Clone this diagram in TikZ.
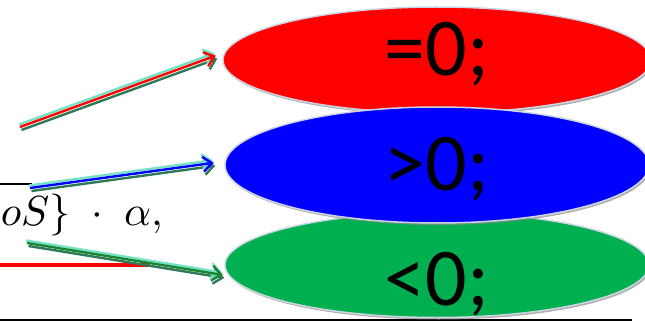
\documentclass[tikz,border=0pt]{standalone}
\usepackage{fontspec}
\newfontfamily\valfont{Carlito}
\usetikzlibrary{arrows.meta,shapes.geometric,shadows}
\definecolor{SignRed}{HTML}{FF0000}
\definecolor{SignBlue}{HTML}{0000FF}
\definecolor{SignGreen}{HTML}{00B050}
\definecolor{ArrowGreen}{HTML}{18862E}
\definecolor{GlowAqua}{HTML}{74E2C6}
\definecolor{ShadeTeal}{HTML}{2E7A58}
\definecolor{RimGrey}{HTML}{CDD5E4}

\begin{document}
\begin{tikzpicture}[x=1pt,y=-1pt,
  ovalbox/.style={ellipse,draw=RimGrey,line width=1.5pt,inner sep=0pt,
    drop shadow={shadow xshift=1.5pt,shadow yshift=-2pt,fill=black!45,opacity=0.7}},
  valtext/.style={anchor=base,inner sep=0pt,font=\valfont\fontsize{82}{84}\selectfont},
  glowarrow/.style={line width=2.4pt,-{Straight Barb[length=9pt,width=15pt]}}]
  \useasboundingbox (0,0) rectangle (645,321);
  % pieces of the slide underneath
  \draw[line width=1.3pt] (0,184) -- (32,184);
  \draw[SignRed,line width=4pt] (0,265) -- (150,265);
  \draw[line width=1.2pt] (0,320) -- (632,320);
  \node[anchor=base west,inner sep=0pt,scale=4.2] (formula) at (0,225)
    {$oS\}\;\cdot\;\alpha,$};
  % the three cases
  \node[ovalbox,fill=SignRed,minimum width=428pt,minimum height=106pt] (eqz) at (437,60) {};
  \node[ovalbox,fill=SignGreen,minimum width=424pt,minimum height=105pt] (ltz) at (437,265) {};
  \node[ovalbox,fill=SignBlue,minimum width=424pt,minimum height=116pt] (gtz) at (437,165) {};
  \node[valtext] (eqtext) at ([yshift=-15pt]eqz.center) {=0;};
  \node[valtext] (gttext) at ([yshift=-25pt]gtz.center) {>0;};
  \node[valtext] (lttext) at ([yshift=-40pt]ltz.center) {<0;};
  % arrows: shade, glow, then the arrow itself
  \coordinate (eqstart) at (20,127);
  \coordinate (gtstart) at (30,188);
  \coordinate (ltstart) at (27,243);
  \foreach \from/\to/\col/\sh in {eqstart/eqz.178/SignRed/9pt,
      gtstart/gtz.179/SignBlue/11pt, ltstart/ltz.183/ArrowGreen/6pt}{
    \draw[glowarrow,ShadeTeal,shorten >=\sh] ([shift={(1.5pt,-3pt)}]\from) -- ([shift={(1.5pt,-3pt)}]\to);
    \draw[glowarrow,GlowAqua,shorten >=\sh] ([shift={(-1pt,2.5pt)}]\from) -- ([shift={(-1pt,2.5pt)}]\to);
    \draw[glowarrow,\col,shorten >=\sh] (\from) -- (\to);
  }
\end{tikzpicture}
\end{document}
